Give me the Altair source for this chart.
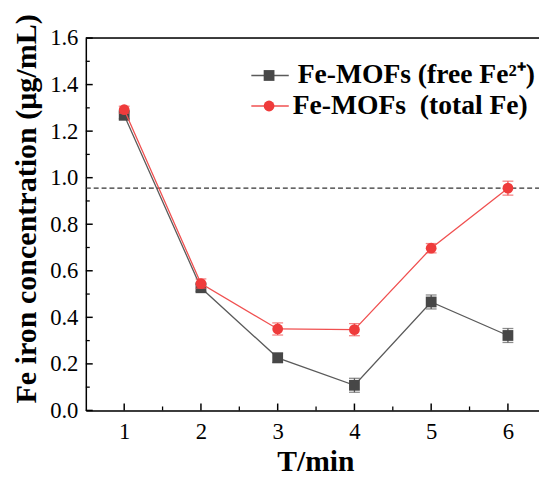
import altair as alt
import pandas as pd

# ---- data ----
T = [1, 2, 3, 4, 5, 6]
free_fe = [1.268, 0.527, 0.226, 0.108, 0.466, 0.322]
free_err = [0.015, 0.015, 0.02, 0.03, 0.03, 0.03]
total_fe = [1.292, 0.545, 0.350, 0.347, 0.697, 0.955]
total_err = [0.015, 0.02, 0.026, 0.026, 0.02, 0.03]
ref_level = [0.955]
x_major = [1, 2, 3, 4, 5, 6]
x_minor = [1.5, 2.5, 3.5, 4.5, 5.5]
y_major = [0.0, 0.2, 0.4, 0.6, 0.8, 1.0, 1.2, 1.4, 1.6]
y_minor = [0.1, 0.3, 0.5, 0.7, 0.9, 1.1, 1.3, 1.5]
legend_labels = ["Fe-MOFs (free Fe\u00b2\u207a)", "Fe-MOFs\u00a0 (total Fe)"]

W, H = 460, 378
FONT = "Liberation Serif"
GRAY = "#474747"
GRAY_LINE = "#5a5a5a"
RED = "#ef3b3b"
RED_LINE = "#f05050"

df_free = pd.DataFrame({"T": T, "v": free_fe, "lo": [a - b for a, b in zip(free_fe, free_err)],
                        "hi": [a + b for a, b in zip(free_fe, free_err)]})
df_total = pd.DataFrame({"T": T, "v": total_fe, "lo": [a - b for a, b in zip(total_fe, total_err)],
                         "hi": [a + b for a, b in zip(total_fe, total_err)]})

xs = alt.Scale(domain=[0.5, 0.5 + W / 77.9], nice=False, zero=False)
ys = alt.Scale(domain=[0, 1.6], nice=False, zero=False)

xaxis = alt.Axis(values=x_major, format="d", ticks=False, grid=False, domainColor="black",
                 domainWidth=1.5, labelFont=FONT, labelFontSize=23, labelColor="black",
                 labelPadding=10, title="T/min", titleFont=FONT, titleFontSize=30,
                 titleFontWeight="bold", titleColor="black", titleX=233, titleY=61,
                 titleBaseline="alphabetic")
yaxis = alt.Axis(values=y_major, format=".1f", ticks=False, grid=False, domainColor="black",
                 domainWidth=1.5, labelFont=FONT, labelFontSize=23, labelColor="black",
                 labelPadding=8, title="Fe iron concentration (\u03bcg/mL)", titleFont=FONT,
                 titleFontSize=30.5, titleFontWeight="bold", titleColor="black",
                 titleX=-51, titleY=173, titleBaseline="alphabetic", titleAngle=-90)

base_axes = alt.Chart(pd.DataFrame({"T": [1], "v": [0]})).mark_point(opacity=0).encode(
    x=alt.X("T:Q", scale=xs, axis=xaxis),
    y=alt.Y("v:Q", scale=ys, axis=yaxis),
)

# inward ticks
xt_major = alt.Chart(pd.DataFrame({"t": x_major})).mark_rule(color="black", strokeWidth=1.5).encode(
    x=alt.X("t:Q", scale=xs), y=alt.value(H), y2=alt.value(H - 7))
xt_minor = alt.Chart(pd.DataFrame({"t": x_minor})).mark_rule(color="black", strokeWidth=1.3).encode(
    x=alt.X("t:Q", scale=xs), y=alt.value(H), y2=alt.value(H - 4))
yt_major = alt.Chart(pd.DataFrame({"t": y_major})).mark_rule(color="black", strokeWidth=1.5).encode(
    y=alt.Y("t:Q", scale=ys), x=alt.value(0), x2=alt.value(7))
yt_minor = alt.Chart(pd.DataFrame({"t": y_minor})).mark_rule(color="black", strokeWidth=1.3).encode(
    y=alt.Y("t:Q", scale=ys), x=alt.value(0), x2=alt.value(4))

top_frame = alt.Chart(pd.DataFrame({"a": [0]})).mark_rule(color="black", strokeWidth=1.5).encode(
    y=alt.value(0), x=alt.value(0), x2=alt.value(W))

ref_line = alt.Chart(pd.DataFrame({"r": ref_level})).mark_rule(
    color="#333333", strokeWidth=1.3, strokeDash=[5, 3]).encode(
    y=alt.Y("r:Q", scale=ys), x=alt.value(0), x2=alt.value(W))


def series(df, line_color, mark_color, shape, size):
    line = alt.Chart(df).mark_line(color=line_color, strokeWidth=1.3).encode(
        x=alt.X("T:Q", scale=xs), y=alt.Y("v:Q", scale=ys))
    err = alt.Chart(df).mark_rule(color=line_color, strokeWidth=1.3).encode(
        x=alt.X("T:Q", scale=xs), y=alt.Y("lo:Q", scale=ys), y2="hi:Q")
    cap_lo = alt.Chart(df).mark_tick(color=line_color, thickness=1.3, size=11, orient="horizontal").encode(
        x=alt.X("T:Q", scale=xs), y=alt.Y("lo:Q", scale=ys))
    cap_hi = alt.Chart(df).mark_tick(color=line_color, thickness=1.3, size=11, orient="horizontal").encode(
        x=alt.X("T:Q", scale=xs), y=alt.Y("hi:Q", scale=ys))
    pts = alt.Chart(df).mark_point(shape=shape, filled=True, color=mark_color, size=size, opacity=1).encode(
        x=alt.X("T:Q", scale=xs), y=alt.Y("v:Q", scale=ys))
    return [line, err, cap_lo, cap_hi, pts]


# legend
leg_y = [38, 69]
leg_df = pd.DataFrame({"label": legend_labels, "row": [0, 1]})
legend_layers = []
leg_colors = [(GRAY_LINE, GRAY, "square", 120), (RED_LINE, RED, "circle", 120)]
text_x = [215, 210]
for i, (lc, mc, shp, sz) in enumerate(leg_colors):
    d = leg_df[leg_df.row == i]
    legend_layers.append(alt.Chart(d).mark_rule(color=lc, strokeWidth=1.5).encode(
        x=alt.value(168), x2=alt.value(206), y=alt.value(leg_y[i])))
    legend_layers.append(alt.Chart(d).mark_point(shape=shp, filled=True, color=mc, size=sz, opacity=1).encode(
        x=alt.value(186), y=alt.value(leg_y[i])))
    legend_layers.append(alt.Chart(d).mark_text(font=FONT, fontSize=28, fontWeight="bold", color="black",
                                                align="left", baseline="middle").encode(
        x=alt.value(text_x[i]), y=alt.value(leg_y[i]), text="label:N"))

layers = [base_axes, xt_major, xt_minor, yt_major, yt_minor, top_frame, ref_line]
layers += series(df_free, GRAY_LINE, GRAY, "square", 120)
layers += series(df_total, RED_LINE, RED, "circle", 120)
layers += legend_layers

chart = alt.layer(*layers).properties(
    width=W, height=H,
    autosize=alt.AutoSizeParams(type="none"),
    padding={"left": 79, "top": 27, "right": 0, "bottom": 58},
).configure_view(stroke=None).configure(background="white")

chart.save("out.html", embed_options={"renderer": "svg", "actions": False})
